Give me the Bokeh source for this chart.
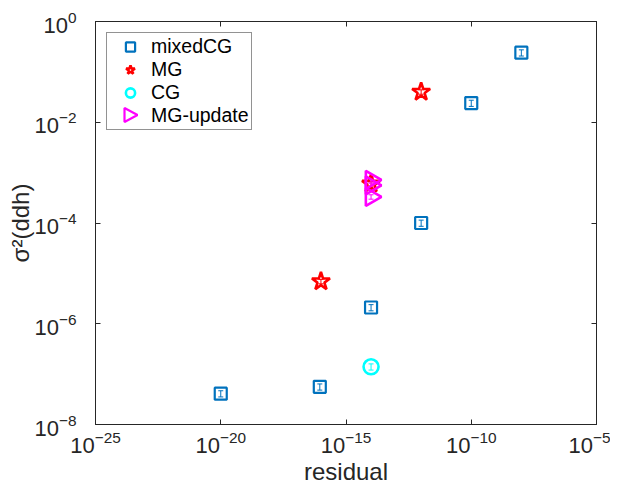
from bokeh.plotting import figure
from bokeh.models import (FixedTicker, LogAxis, Whisker, TeeHead, ColumnDataSource,
                          CustomJSTickFormatter, PolyAnnotation)
from bokeh.embed import file_html
from bokeh.resources import INLINE

# ---- data ----
mixed_res = [1e-20, 9e-17, 1e-14, 1e-12, 1e-10, 1e-8]
mixed_var = [4.1e-8, 5.6e-8, 2.1e-6, 1.0e-4, 2.4e-2, 0.24]
mixed_err = [0.14, 0.14, 0.14, 0.14, 0.14, 0.14]

mg_res = [1e-16, 1e-14, 1e-12]
mg_var = [6.9e-6, 6.0e-4, 4.0e-2]
mg_err = [0.1, 0.1, 0.1]

cg_res = [1e-14]
cg_var = [1.4e-7]
cg_err = [0.14]

mgu_res = [1e-14, 1e-14, 1e-14]
mgu_var = [7.2e-4, 5.6e-4, 3.3e-4]
mgu_err = [0.1, 0.1, 0.1]

x_ticks = [1e-25, 1e-20, 1e-15, 1e-10, 1e-5]
y_ticks = [1e-8, 1e-6, 1e-4, 1e-2, 1]

FONT = "Liberation Sans"
AX = "#262626"
BORDER_L = 95
BORDER_T = 21

p = figure(x_axis_type="log", y_axis_type="log",
           x_range=(1e-25, 1e-5), y_range=(1e-8, 1),
           frame_width=501, frame_height=403,
           min_border_left=BORDER_L, min_border_top=BORDER_T, min_border_right=14,
           min_border_bottom=40,
           output_backend="svg", toolbar_location=None)
p.xgrid.visible = False
p.ygrid.visible = False
p.outline_line_color = AX
p.background_fill_color = "white"
p.border_fill_color = "white"

for ax, ticks in ((p.xaxis[0], x_ticks), (p.yaxis[0], y_ticks)):
    ax.ticker = FixedTicker(ticks=ticks, minor_ticks=[])
    ax.major_tick_in = 5
    ax.major_tick_out = 0
    ax.minor_tick_line_color = None
    ax.axis_line_color = AX
    ax.major_tick_line_color = AX
    ax.major_label_text_font = FONT
    ax.major_label_text_font_size = "22px"
    ax.major_label_text_color = AX
    ax.axis_label_text_font = FONT
    ax.axis_label_text_font_size = "24px"
    ax.axis_label_text_font_style = "normal"
    ax.axis_label_text_color = AX

p.xaxis.axis_label = "residual"
p.yaxis.axis_label = "σ²(ddh)"
p.xaxis.major_label_standoff = 6
p.yaxis.major_label_standoff = 19
p.xaxis.axis_label_standoff = 2
p.yaxis.axis_label_standoff = -3

blank = CustomJSTickFormatter(code="return ''")
top = LogAxis(ticker=FixedTicker(ticks=x_ticks, minor_ticks=[]), formatter=blank,
              major_tick_in=5, major_tick_out=0, major_label_standoff=0,
              axis_line_color=AX, major_tick_line_color=AX)
right = LogAxis(ticker=FixedTicker(ticks=y_ticks, minor_ticks=[]), formatter=blank,
                major_tick_in=5, major_tick_out=0, major_label_standoff=0,
                axis_line_color=AX, major_tick_line_color=AX)
p.add_layout(top, "above")
p.add_layout(right, "right")


def errbars(xs, ys, errs, color):
    src = ColumnDataSource(dict(x=xs,
                                lo=[y * (1 - e) for y, e in zip(ys, errs)],
                                hi=[y * (1 + e) for y, e in zip(ys, errs)]))
    w = Whisker(source=src, base="x", lower="lo", upper="hi", dimension="height",
                line_color=color, line_width=1,
                lower_head=TeeHead(size=5, line_color=color, line_width=1),
                upper_head=TeeHead(size=5, line_color=color, line_width=1))
    p.add_layout(w)


blue = "#0072BD"
red = "#FF0000"
cyan = "#00FFFF"
magenta = "#FF00FF"

p.scatter(mixed_res, mixed_var, marker="square", size=12, line_color=blue, line_width=2.2,
          fill_color=None, legend_label="mixedCG")
errbars(mixed_res, mixed_var, mixed_err, blue)

p.scatter(mg_res, mg_var, marker="star", size=19, line_color=red, line_width=2.6,
          fill_color=None, legend_label="MG")
errbars(mg_res, mg_var, mg_err, red)

p.scatter(cg_res, cg_var, marker="circle", size=15, line_color=cyan, line_width=2.6,
          fill_color=None, legend_label="CG")
errbars(cg_res, cg_var, cg_err, cyan)

p.scatter(mgu_res, mgu_var, marker="triangle", angle=-1.5708, size=18, line_color=magenta,
          line_width=2.6, fill_color=None)
errbars(mgu_res, mgu_var, mgu_err, magenta)
# legend entry for MG-update: label only; its right-pointing symbol is drawn below
p.scatter([], [], marker="triangle", size=1, line_alpha=0, fill_alpha=0,
          legend_label="MG-update")

lg = p.legend[0]
lg.location = "top_left"
lg.margin = 11
lg.padding = 2
lg.spacing = 0
lg.glyph_height = 23
lg.glyph_width = 42
lg.label_height = 23
lg.label_standoff = 0
lg.label_text_font = FONT
lg.label_text_font_size = "19.5px"
lg.label_text_color = "#000000"
lg.border_line_color = AX
lg.border_line_width = 1
lg.background_fill_alpha = 0

# right-pointing triangle symbol for the MG-update legend row (canvas pixels)
cx = BORDER_L + lg.margin + lg.padding + lg.glyph_width / 2
cy = BORDER_T + lg.margin + lg.padding + 3 * lg.label_height + lg.label_height / 2
tri = PolyAnnotation(xs=[cx - 5, cx - 5, cx + 8], ys=[cy - 7, cy + 7, cy],
                     xs_units="canvas", ys_units="canvas",
                     fill_color=None, fill_alpha=0, line_color=magenta, line_alpha=1,
                     line_width=2.2)
p.add_layout(tri)

open("out.html", "w").write(file_html(p, INLINE))
